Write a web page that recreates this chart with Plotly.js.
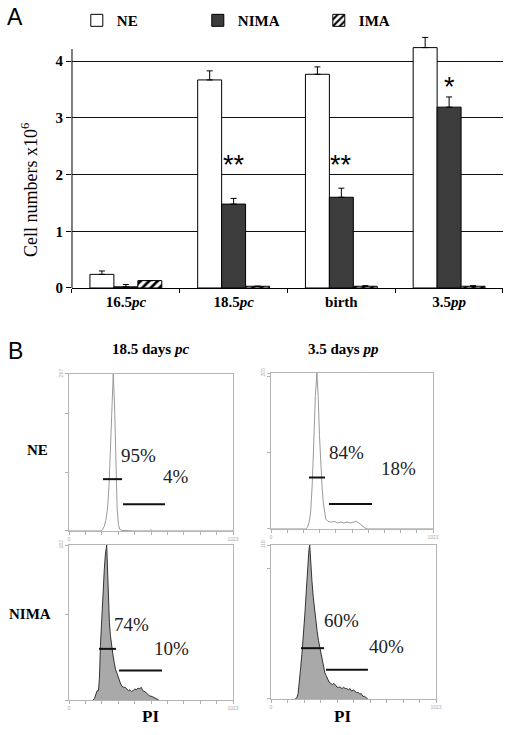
<!DOCTYPE html>
<html>
<head>
<meta charset="utf-8">
<script src="https://cdn.plot.ly/plotly-3.0.1.min.js"></script>
<style>html,body{margin:0;padding:0;background:#fff;}#chart{width:512px;height:735px;}</style>
</head>
<body>
<div id="chart"></div>
<script>
// ---------- Panel A data ----------
const categories = ['16.5<i>pc</i>', '18.5<i>pc</i>', 'birth', '3.5<i>pp</i>'];
const seriesNames = ['NE', 'NIMA', 'IMA'];
const neVals = [0.24, 3.67, 3.77, 4.24];
const neErr = [0.06, 0.16, 0.13, 0.18];
const nimaVals = [0.02, 1.48, 1.60, 3.19];
const nimaErr = [0.04, 0.10, 0.16, 0.18];
const imaVals = [0.13, 0.03, 0.03, 0.03];
const imaErr = [0.0, 0.0, 0.01, 0.01];
const yTicks = [0, 1, 2, 3, 4];
const sigLabels = ['', '**', '**', '*'];
const sigY = [0, 2.17, 2.17, 3.54];

// ---------- Panel B data (PI histograms, channel vs count) ----------
const hNE185x = [0, 200, 210, 220, 230, 240, 250, 260, 268, 276, 284, 292, 300, 308, 316, 330, 400, 500, 510, 520, 600, 1023];
const hNE185y = [0, 0, 3, 8, 19, 37, 80, 155, 227, 267, 214, 120, 40, 11, 3, 1, 0, 0, 2, 0, 0, 0];
const hNE35x = [0, 220, 230, 240, 250, 260, 270, 280, 290, 298, 306, 314, 322, 330, 338, 346, 360, 380, 400, 420, 440, 460, 480, 500, 520, 540, 560, 580, 595, 610, 1023];
const hNE35y = [0, 0, 2, 8, 21, 57, 113, 174, 205, 174, 123, 86, 57, 35, 21, 13, 10, 9, 10, 8, 9, 8, 9, 8, 9, 10, 7, 4, 1, 0, 0];
const hNIMA185x = [150, 160, 168, 176, 184, 190, 196, 204, 212, 220, 226, 231, 235, 240, 246, 252, 258, 266, 274, 282, 290, 300, 310, 320, 330, 340, 350, 360, 370, 380, 390, 400, 410, 420, 430, 440, 450, 460, 470, 480, 490, 500, 520, 540, 560];
const hNIMA185y = [0, 2, 7, 11, 11, 27, 64, 100, 127, 153, 169, 178, 182, 155, 118, 91, 76, 62, 53, 44, 36, 31, 25, 20, 16, 15, 15, 13, 11, 12, 10, 11, 13, 12, 14, 13, 15, 11, 10, 9, 7, 5, 4, 2, 0];
const hNIMA35x = [150, 160, 168, 176, 184, 192, 200, 210, 220, 228, 235, 240, 246, 254, 262, 270, 278, 286, 294, 302, 310, 318, 326, 334, 342, 350, 360, 370, 380, 390, 400, 410, 420, 430, 440, 450, 460, 470, 480, 490, 500, 510, 520, 530, 540, 550, 560, 570, 580, 590, 600];
const hNIMA35y = [0, 1, 4, 12, 24, 35, 47, 65, 85, 104, 114, 118, 104, 90, 78, 68, 59, 52, 45, 40, 35, 30, 24, 20, 18, 15, 13, 12, 11, 12, 10, 9, 9, 9, 8, 9, 8, 8, 7, 8, 6, 7, 6, 5, 5, 4, 4, 2, 2, 1, 0];
const histMax = [267, 205, 182, 118];
const histChannelMax = 1023;
const gateM1 = [[212, 331], [240, 341], [187, 293], [186, 329]];
const gateM2 = [[337, 599], [366, 638], [312, 580], [341, 601]];
const pctM1 = ['95%', '84%', '74%', '60%'];
const pctM2 = ['4%', '18%', '10%', '40%'];

// ---------- styling ----------
const SERIF = 'Liberation Serif, Times New Roman, serif';
const SANS = 'Liberation Sans, Arial, sans-serif';
const Y_TOP = 4.215;

const errStyle = (arr) => ({type: 'data', symmetric: false, array: arr, arrayminus: arr.map(() => 0), color: '#000', thickness: 1, width: 3});

const traces = [
  {type: 'bar', name: seriesNames[0], x: categories, y: neVals, error_y: errStyle(neErr),
   marker: {color: '#ffffff', line: {color: '#000', width: 1}}, xaxis: 'x', yaxis: 'y'},
  {type: 'bar', name: seriesNames[1], x: categories, y: nimaVals, error_y: errStyle(nimaErr),
   marker: {color: '#3c3c3c', line: {color: '#000', width: 1}}, xaxis: 'x', yaxis: 'y'},
  {type: 'bar', name: seriesNames[2], x: categories, y: imaVals, error_y: errStyle(imaErr),
   marker: {color: '#ffffff', line: {color: '#000', width: 1}, pattern: {shape: '/', fgcolor: '#000', bgcolor: '#fff', size: 6, solidity: 0.45}},
   xaxis: 'x', yaxis: 'y'}
];

const hists = [[hNE185x, hNE185y], [hNE35x, hNE35y], [hNIMA185x, hNIMA185y], [hNIMA35x, hNIMA35y]];
hists.forEach((h, i) => {
  const filled = i >= 2;
  traces.push({
    type: 'scatter', mode: 'lines', x: h[0], y: h[1], showlegend: false, hoverinfo: 'skip',
    line: {color: filled ? '#333' : '#9a9a9a', width: 1},
    fill: filled ? 'tozeroy' : 'none', fillcolor: '#a9a9a9',
    xaxis: 'x' + (i + 2), yaxis: 'y' + (i + 2)
  });
});

const xDomains = [[0.1348, 0.4551], [0.5293, 0.8457], [0.1348, 0.4551], [0.5293, 0.8516]];
const yDomains = [[0.2776, 0.4912], [0.2803, 0.4925], [0.0476, 0.2585], [0.0490, 0.2585]];

const ann = (text, x, y, font, extra) => Object.assign({text: text, xref: 'paper', yref: 'paper', x: x, y: y,
  xanchor: 'center', yanchor: 'middle', showarrow: false, font: font}, extra || {});
const boldSerif = (s) => ({family: SERIF, size: s, color: '#000', weight: 'bold'});

const layout = {
  width: 512, height: 735, autosize: false,
  margin: {l: 0, r: 0, t: 0, b: 0, pad: 0},
  paper_bgcolor: '#fff', plot_bgcolor: 'rgba(0,0,0,0)',
  barmode: 'group', bargap: 0.333, bargroupgap: 0,
  showlegend: true,
  legend: {orientation: 'h', x: 0.150, xanchor: 'left', y: 0.972, yanchor: 'middle',
           font: boldSerif(15), entrywidth: 76, entrywidthmode: 'pixels',
           bgcolor: 'rgba(0,0,0,0)', traceorder: 'normal'},
  xaxis: {domain: [0.1406, 0.9824], anchor: 'y', type: 'category', showline: true, linecolor: '#000', linewidth: 1,
          ticks: 'outside', tickson: 'boundaries', ticklen: 4, tickcolor: '#000', showgrid: false,
          tickfont: boldSerif(15)},
  yaxis: {domain: [0.6082, 0.9514], anchor: 'x', range: [0, 4.45], tickvals: yTicks,
          showline: false, ticks: 'outside', ticklen: 5, tickcolor: '#000',
          showgrid: true, gridcolor: '#111', gridwidth: 1, zeroline: false,
          tickfont: boldSerif(15)},
  shapes: [
    {type: 'line', xref: 'x domain', yref: 'y', x0: 0, x1: 0, y0: 0, y1: Y_TOP, line: {color: '#000', width: 1}}
  ],
  annotations: [
    ann('A', 0.0293, 0.9769, {family: SANS, size: 23, color: '#000'}),
    ann('B', 0.0293, 0.5224, {family: SANS, size: 23, color: '#000'}),
    ann('Cell numbers x10<sup>6</sup>', 0.0586, 0.7415, {family: SERIF, size: 18, color: '#000'}, {textangle: -90}),
    ann('18.5 days <i>pc</i>', 0.293, 0.5252, boldSerif(15)),
    ann('3.5 days <i>pp</i>', 0.670, 0.5252, boldSerif(15)),
    ann('NE', 0.0742, 0.3878, boldSerif(15)),
    ann('NIMA', 0.0586, 0.1646, boldSerif(15)),
    ann('PI', 0.293, 0.0245, boldSerif(17)),
    ann('PI', 0.668, 0.0245, boldSerif(17))
  ]
};

sigLabels.forEach((s, i) => {
  if (!s) return;
  layout.annotations.push({text: s, xref: 'x', yref: 'y', x: i, y: sigY[i], showarrow: false,
    xanchor: 'center', yanchor: 'middle', font: {family: SANS, size: 27, color: '#000'}});
});

const pctPos = [[[0.424, 0.48], [0.652, 0.35]], [[0.463, 0.49], [0.787, 0.39]], [[0.384, 0.49], [0.622, 0.33]], [[0.427, 0.51], [0.70, 0.34]]];
const gateY = [[0.33, 0.17], [0.33, 0.16], [0.33, 0.19], [0.33, 0.19]];

for (let i = 0; i < 4; i++) {
  const n = i + 2;
  layout['xaxis' + n] = {domain: xDomains[i], anchor: 'y' + n, range: [0, histChannelMax], showline: true, mirror: true,
    linecolor: '#b5b5b5', linewidth: 1, ticks: 'outside', ticklen: 3, tickcolor: '#b0b0b0', showgrid: false, zeroline: false,
    tickvals: [0, histChannelMax], ticktext: ['0', String(histChannelMax)], tickfont: {family: SANS, size: 5, color: '#aaa'},
    minor: {tickmode: 'linear', tick0: 0, dtick: histChannelMax / 10, ticks: 'outside', ticklen: 3, tickcolor: '#b0b0b0', showgrid: false}};
  layout['yaxis' + n] = {domain: yDomains[i], anchor: 'x' + n, range: [0, histMax[i]], showline: true, mirror: true,
    linecolor: '#b5b5b5', linewidth: 1, ticks: 'outside', ticklen: 3, tickcolor: '#b0b0b0', showgrid: false, zeroline: false,
    tickvals: [histMax[i]], ticktext: [String(histMax[i])], tickangle: -90,
    tickfont: {family: SANS, size: 5, color: '#aaa'},
    minor: {tickmode: 'linear', tick0: 0, dtick: 100, ticks: 'outside', ticklen: 3, tickcolor: '#b0b0b0', showgrid: false}};
  layout.shapes.push({type: 'line', xref: 'x' + n, yref: 'y' + n + ' domain', x0: gateM1[i][0], x1: gateM1[i][1], y0: gateY[i][0], y1: gateY[i][0], line: {color: '#111', width: 2}});
  layout.shapes.push({type: 'line', xref: 'x' + n, yref: 'y' + n + ' domain', x0: gateM2[i][0], x1: gateM2[i][1], y0: gateY[i][1], y1: gateY[i][1], line: {color: '#111', width: 2}});
  layout.annotations.push({text: pctM1[i], xref: 'x' + n + ' domain', yref: 'y' + n + ' domain', x: pctPos[i][0][0], y: pctPos[i][0][1],
    xanchor: 'center', yanchor: 'middle', showarrow: false, font: {family: SERIF, size: 19, color: '#222'}});
  layout.annotations.push({text: pctM2[i], xref: 'x' + n + ' domain', yref: 'y' + n + ' domain', x: pctPos[i][1][0], y: pctPos[i][1][1],
    xanchor: 'center', yanchor: 'middle', showarrow: false, font: {family: SERIF, size: 19, color: '#222'}});
}

Plotly.newPlot('chart', traces, layout, {staticPlot: true, displayModeBar: false});
</script>
</body>
</html>
